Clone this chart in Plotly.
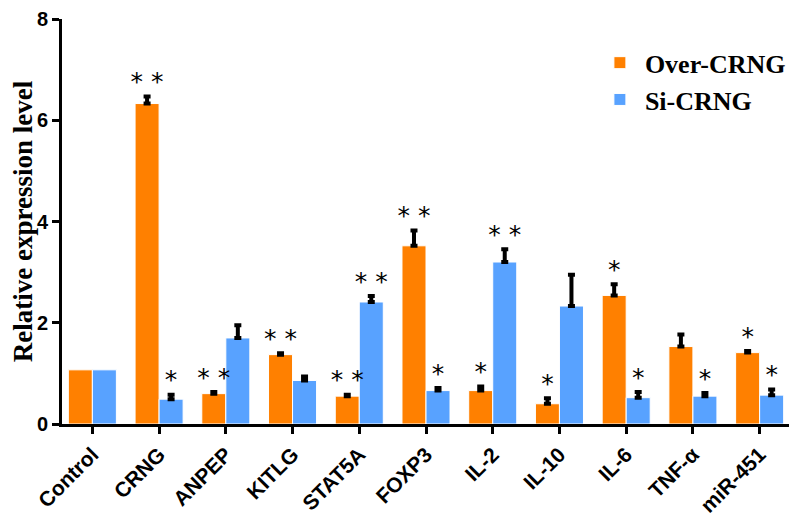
import plotly.graph_objects as go

categories = ["Control", "CRNG", "ANPEP", "KITLG", "STAT5A", "FOXP3",
              "IL-2", "IL-10", "IL-6", "TNF-α", "miR-451"]
over_vals = [1.07, 6.33, 0.60, 1.37, 0.55, 3.52, 0.66, 0.40, 2.54, 1.53, 1.41]
over_err = [None, 0.14, 0.03, 0.03, 0.03, 0.30, 0.08, 0.11, 0.22, 0.24, 0.03]
over_sig = ["", "* *", "* *", "* *", "* *", "* *", "*", "*", "*", "", "*"]
si_vals = [1.07, 0.49, 1.70, 0.86, 2.41, 0.66, 3.20, 2.33, 0.52, 0.55, 0.57]
si_err = [None, 0.09, 0.25, 0.08, 0.12, 0.05, 0.25, 0.62, 0.11, 0.06, 0.11]
si_sig = ["", "*", "", "", "* *", "*", "* *", "", "*", "*", "*"]
y_ticks = [0, 2, 4, 6, 8]

ORANGE = "#FF8000"
BLUE = "#58A2FF"
bargap = 0.28
half = (1 - bargap) / 4
xs = list(range(len(categories)))

fig = go.Figure()
fig.add_trace(go.Bar(x=xs, y=over_vals, name="Over-CRNG",
                     marker=dict(color=ORANGE, line=dict(color="white", width=1))))
fig.add_trace(go.Bar(x=xs, y=si_vals, name="Si-CRNG",
                     marker=dict(color=BLUE, line=dict(color="white", width=1))))

err_style = dict(type="data", symmetric=False, color="black", thickness=4, width=3.5)
star_font = dict(family="DejaVu Sans", size=25, color="black")
for vals, errs, sig, sign in ((over_vals, over_err, over_sig, -1), (si_vals, si_err, si_sig, 1)):
    idx = [i for i, e in enumerate(errs) if e is not None]
    # error bars (upper only, like the original)
    fig.add_trace(go.Scatter(
        x=[xs[i] + sign * half for i in idx], y=[vals[i] for i in idx],
        mode="markers", marker=dict(size=1, color="rgba(0,0,0,0)"),
        error_y=dict(array=[errs[i] for i in idx], arrayminus=[0] * len(idx), **err_style),
        showlegend=False, hoverinfo="skip"))
    # significance stars
    fig.add_trace(go.Scatter(
        x=[xs[i] + sign * half for i in idx], y=[vals[i] + errs[i] for i in idx],
        text=[sig[i] for i in idx], mode="text", textposition="top center",
        textfont=star_font, showlegend=False, hoverinfo="skip"))

fig.update_layout(
    width=789, height=509,
    margin=dict(l=54, r=4, t=11, b=93, autoexpand=False),
    paper_bgcolor="white", plot_bgcolor="white",
    barmode="group", bargap=bargap, bargroupgap=0,
    legend=dict(x=0.729, y=0.95, xanchor="left", yanchor="top",
                font=dict(family="Liberation Serif", size=26, color="black", weight="bold"),
                tracegroupgap=6, itemwidth=40, bgcolor="rgba(0,0,0,0)"),
    xaxis=dict(
        range=[-0.455, 10.5], tickmode="array", tickvals=xs, ticktext=categories,
        tickangle=-45, showline=True, linecolor="black", linewidth=3,
        ticks="outside", ticklen=7, tickwidth=3, tickcolor="black",
        showgrid=False, zeroline=False, automargin=False,
        tickfont=dict(family="Liberation Sans", size=21, color="black", weight="bold")),
    yaxis=dict(
        range=[0, 8], tickvals=y_ticks, showline=True, linecolor="black", linewidth=3,
        ticks="outside", ticklen=7, tickwidth=3, tickcolor="black",
        showgrid=False, zeroline=False, automargin=False, ticklabeloverflow="allow",
        tickfont=dict(family="Liberation Sans", size=20, color="black", weight="bold"),
        title=dict(text="Relative expression level", standoff=4,
                   font=dict(family="Liberation Serif", size=27, color="black", weight="bold"))),
)

fig.write_html("out.html")
